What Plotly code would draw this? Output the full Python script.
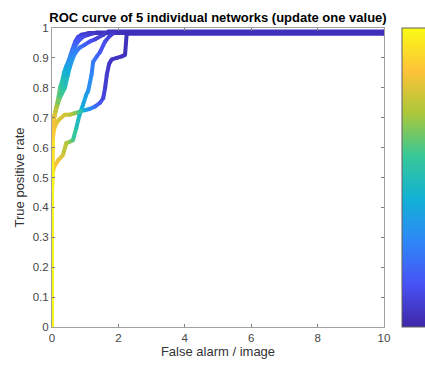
import plotly.graph_objects as go
from plotly.colors import sample_colorscale

# ---- data ----
fpr1 = [0, 0, 0.02, 0.06, 0.12, 0.18, 0.24, 0.30, 0.36, 0.42, 0.50, 0.56, 0.62, 0.70, 0.78, 0.90, 1.10, 10]
tpr1 = [0, 0.50, 0.64, 0.70, 0.73, 0.76, 0.80, 0.82, 0.85, 0.87, 0.89, 0.91, 0.93, 0.955, 0.97, 0.978, 0.983, 0.983]
thr1 = [1.0, 0.97, 0.9, 0.82, 0.74, 0.66, 0.58, 0.52, 0.45, 0.38, 0.32, 0.26, 0.21, 0.16, 0.12, 0.08, 0.05, 0.03]

fpr2 = [0, 0, 0.03, 0.08, 0.15, 0.25, 0.39, 0.47, 0.54, 0.63, 0.72, 0.84, 1.00, 1.14, 1.30, 1.54, 1.70, 10]
tpr2 = [0, 0.50, 0.66, 0.71, 0.74, 0.77, 0.80, 0.84, 0.87, 0.90, 0.92, 0.935, 0.945, 0.955, 0.962, 0.977, 0.988, 0.988]
thr2 = [1.0, 0.97, 0.88, 0.8, 0.7, 0.6, 0.52, 0.45, 0.38, 0.32, 0.27, 0.22, 0.18, 0.14, 0.1, 0.07, 0.04, 0.03]

fpr3 = [0, 0, 0.03, 0.08, 0.2, 0.33, 0.43, 0.55, 0.63, 0.73, 0.83, 0.93, 1.03, 1.09, 1.19, 1.24, 1.35, 1.45, 1.6, 1.75, 1.9, 10]
tpr3 = [0, 0.45, 0.52, 0.54, 0.56, 0.575, 0.615, 0.62, 0.625, 0.665, 0.71, 0.742, 0.776, 0.79, 0.843, 0.887, 0.905, 0.92, 0.955, 0.975, 0.986, 0.986]
thr3 = [1.0, 0.97, 0.92, 0.86, 0.82, 0.78, 0.72, 0.66, 0.6, 0.52, 0.45, 0.4, 0.36, 0.33, 0.28, 0.24, 0.2, 0.16, 0.12, 0.08, 0.05, 0.03]

fpr4 = [0, 0, 0.02, 0.08, 0.18, 0.38, 0.55, 0.68, 0.85, 0.98, 1.15, 1.29, 1.45, 1.54, 1.6, 1.65, 1.72, 1.8, 1.95, 2.1, 2.2, 2.25, 10]
tpr4 = [0, 0.55, 0.63, 0.67, 0.69, 0.71, 0.71, 0.715, 0.72, 0.725, 0.73, 0.737, 0.75, 0.765, 0.8, 0.843, 0.88, 0.895, 0.9, 0.905, 0.91, 0.981, 0.981]
thr4 = [1.0, 0.97, 0.9, 0.84, 0.8, 0.78, 0.74, 0.68, 0.56, 0.42, 0.3, 0.22, 0.15, 0.1, 0.08, 0.07, 0.06, 0.05, 0.05, 0.04, 0.04, 0.03, 0.03]

fpr5 = [0, 0, 0.02, 0.07, 0.14, 0.22, 0.3, 0.38, 0.45, 0.52, 0.6, 0.68, 0.78, 0.92, 1.1, 1.35, 10]
tpr5 = [0, 0.5, 0.65, 0.705, 0.735, 0.765, 0.79, 0.83, 0.86, 0.885, 0.91, 0.935, 0.955, 0.97, 0.978, 0.985, 0.985]
thr5 = [1.0, 0.97, 0.89, 0.81, 0.72, 0.64, 0.56, 0.48, 0.41, 0.35, 0.29, 0.23, 0.17, 0.12, 0.08, 0.05, 0.03]

x_ticks = [0, 2, 4, 6, 8, 10]
y_ticks = [0, 0.1, 0.2, 0.3, 0.4, 0.5, 0.6, 0.7, 0.8, 0.9, 1]
y_tick_text = ["0", "0.1", "0.2", "0.3", "0.4", "0.5", "0.6", "0.7", "0.8", "0.9", "1"]
cbar_ticks = [0, 0.1, 0.2, 0.3, 0.4, 0.5, 0.6, 0.7, 0.8, 0.9, 1]

title = "ROC curve of 5 individual networks (update one value)"
x_label = "False alarm / image"
y_label = "True positive rate"

parula = [
    [0.0, "#3e26a8"], [1 / 7, "#4852f4"], [2 / 7, "#2e87f7"], [3 / 7, "#12b1d6"],
    [4 / 7, "#37c897"], [5 / 7, "#abc739"], [6 / 7, "#fec338"], [1.0, "#f9fb15"],
]

curves = [(fpr1, tpr1, thr1), (fpr5, tpr5, thr5), (fpr2, tpr2, thr2),
          (fpr3, tpr3, thr3), (fpr4, tpr4, thr4)]

fig = go.Figure()
LW = 4
for fx, fy, ft in curves:
    for i in range(len(fx) - 1):
        c = sample_colorscale(parula, [(ft[i] + ft[i + 1]) / 2])[0]
        fig.add_trace(go.Scatter(x=[fx[i], fx[i + 1]], y=[fy[i], fy[i + 1]], mode="lines",
                                 line=dict(color=c, width=LW), showlegend=False,
                                 hoverinfo="skip"))
    fig.add_trace(go.Scatter(x=fx, y=fy, mode="markers", showlegend=False, hoverinfo="skip",
                             marker=dict(size=LW, color=ft, colorscale=parula, cmin=0, cmax=1,
                                         line=dict(width=0))))

# colorbar
fig.add_trace(go.Scatter(x=[None], y=[None], mode="markers", showlegend=False,
                         marker=dict(color=[0], colorscale=parula, cmin=0, cmax=1, showscale=True,
                                     colorbar=dict(x=1.054, xanchor="left", xpad=0, ypad=0,
                                                   thickness=26, len=1, lenmode="fraction",
                                                   y=0.5, yanchor="middle",
                                                   outlinecolor="#606060", outlinewidth=1,
                                                   tickvals=cbar_ticks,
                                                   ticks="inside", ticklen=3,
                                                   tickcolor="#606060",
                                                   showticklabels=False))))

axis_common = dict(showgrid=False, zeroline=False, showline=True, linecolor="#a0a0a0",
                   linewidth=1, mirror="allticks", ticks="inside", ticklen=3,
                   tickcolor="#808080", tickfont=dict(size=11.5, color="#454545"))

fig.update_layout(
    width=425, height=367,
    margin=dict(l=52, r=41, t=28, b=40, autoexpand=False),
    paper_bgcolor="white", plot_bgcolor="white",
    font=dict(family="Liberation Sans, Arial, sans-serif"),
    title=dict(text="<b>" + title + "</b>", x=0.5, xref="paper", xanchor="center",
               y=1 - 17 / 367, yref="container", yanchor="middle",
               font=dict(size=13, color="black")),
    xaxis=dict(range=[0, 10], tickvals=x_ticks, **axis_common,
               title=dict(text=x_label, standoff=4, font=dict(size=13, color="#333333"))),
    yaxis=dict(range=[0, 1], tickvals=y_ticks, ticktext=y_tick_text, **axis_common,
               title=dict(text=y_label, standoff=5, font=dict(size=13, color="#333333"))),
)

fig.write_html("out.html")
